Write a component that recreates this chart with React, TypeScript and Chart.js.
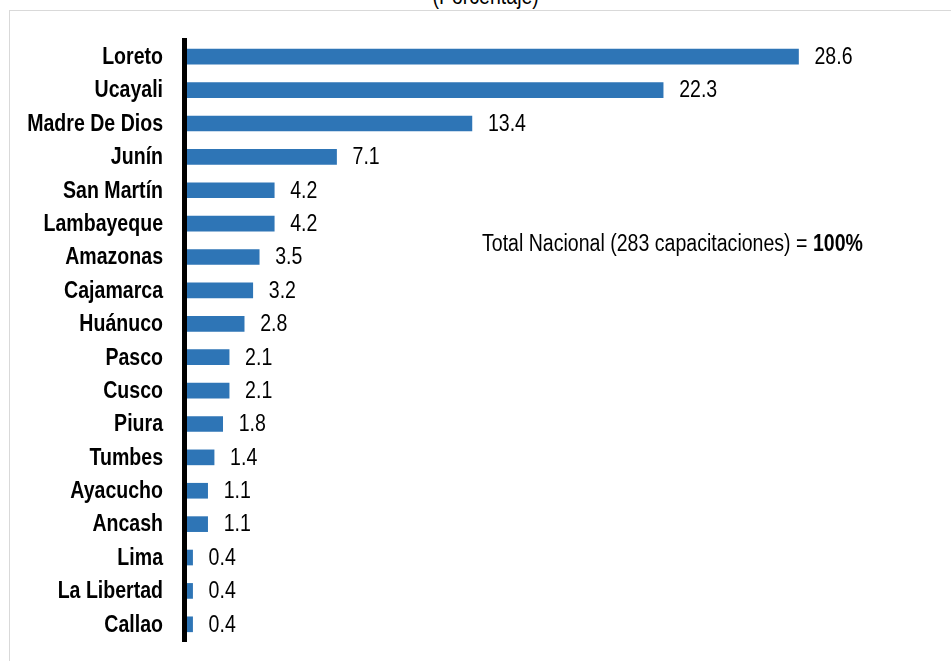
import React, { useEffect, useRef } from "react";
import { Chart, registerables } from "chart.js";

Chart.register(...registerables);

const categories = [
  "Loreto", "Ucayali", "Madre De Dios", "Junín", "San Martín", "Lambayeque",
  "Amazonas", "Cajamarca", "Huánuco", "Pasco", "Cusco", "Piura", "Tumbes",
  "Ayacucho", "Ancash", "Lima", "La Libertad", "Callao",
];
const values = [28.6, 22.3, 13.4, 7.1, 4.2, 4.2, 3.5, 3.2, 2.8, 2.1, 2.1, 1.8, 1.4, 1.1, 1.1, 0.4, 0.4, 0.4];
const titleText = "(Porcentaje)";
const noteText = "Total Nacional (283 capacitaciones) = ";
const noteBold = "100%";

const FONT = "'Liberation Sans', Arial, sans-serif";
const SX = 0.85;

const textPlugin = {
  id: "textPlugin",
  afterDatasetsDraw(chart: any) {
    const ctx = chart.ctx;
    const meta = chart.getDatasetMeta(0);
    const yScale = chart.scales.y;
    ctx.save();
    ctx.fillStyle = "#000";
    ctx.textBaseline = "middle";
    // value labels
    ctx.font = `23px ${FONT}`;
    ctx.textAlign = "left";
    meta.data.forEach((bar: any, i: number) => {
      ctx.save();
      ctx.translate(bar.x + 16, bar.y + 1);
      ctx.scale(SX, 1);
      ctx.fillText(values[i].toFixed(1), 0, 0);
      ctx.restore();
    });
    // category labels
    ctx.font = `bold 23px ${FONT}`;
    ctx.textAlign = "right";
    categories.forEach((c, i) => {
      const py = yScale.getPixelForTick(i);
      ctx.save();
      ctx.translate(yScale.right - 21, py + 1);
      ctx.scale(SX, 1);
      ctx.fillText(c, 0, 0);
      ctx.restore();
    });
    ctx.restore();
  },
};

export default function App() {
  const ref = useRef<HTMLCanvasElement>(null);
  useEffect(() => {
    if (!ref.current) return;
    const chart = new Chart(ref.current, {
      type: "bar",
      data: {
        labels: categories,
        datasets: [
          {
            data: values,
            backgroundColor: "#2E75B6",
            barThickness: 15,
          },
        ],
      },
      options: {
        indexAxis: "y",
        animation: false,
        responsive: false,
        maintainAspectRatio: false,
        layout: { padding: { left: 0, right: 15, top: 40, bottom: 20 } },
        plugins: { legend: { display: false }, tooltip: { enabled: false }, title: { display: false } },
        scales: {
          x: { display: false, min: 0, max: 35 },
          y: {
            afterFit: (s: any) => {
              s.width = 184;
              s.paddingTop = 0;
              s.paddingBottom = 0;
            },
            grid: { display: false, drawTicks: false },
            border: { display: true, color: "#000", width: 5, z: 1 },
            ticks: { display: false },
          },
        },
      },
      plugins: [textPlugin],
    } as any);
    return () => chart.destroy();
  }, []);
  return (
    <div style={{ position: "absolute", left: 0, top: 0, width: 951, height: 661, overflow: "hidden", background: "#fff" }}>
      <div style={{ position: "absolute", left: 9, top: 10, width: 1000, height: 700, borderLeft: "1px solid #d9d9d9", borderTop: "1px solid #d9d9d9" }} />
      <div style={{ position: "absolute", left: 0, width: 971, top: -17, textAlign: "center", color: "#000" }}>
        <span style={{ display: "inline-block", font: `23px ${FONT}`, lineHeight: "26px", transform: `scaleX(${SX})` }}>{titleText}</span>
      </div>
      <canvas ref={ref} width={951} height={661} style={{ position: "absolute", left: 0, top: 0 }} />
      <div style={{ position: "absolute", left: 482, top: 230, font: `23px ${FONT}`, color: "#000", whiteSpace: "nowrap", lineHeight: "26px", transform: `scaleX(${SX})`, transformOrigin: "0 0" }}>
        {noteText}<b>{noteBold}</b>
      </div>
    </div>
  );
}
